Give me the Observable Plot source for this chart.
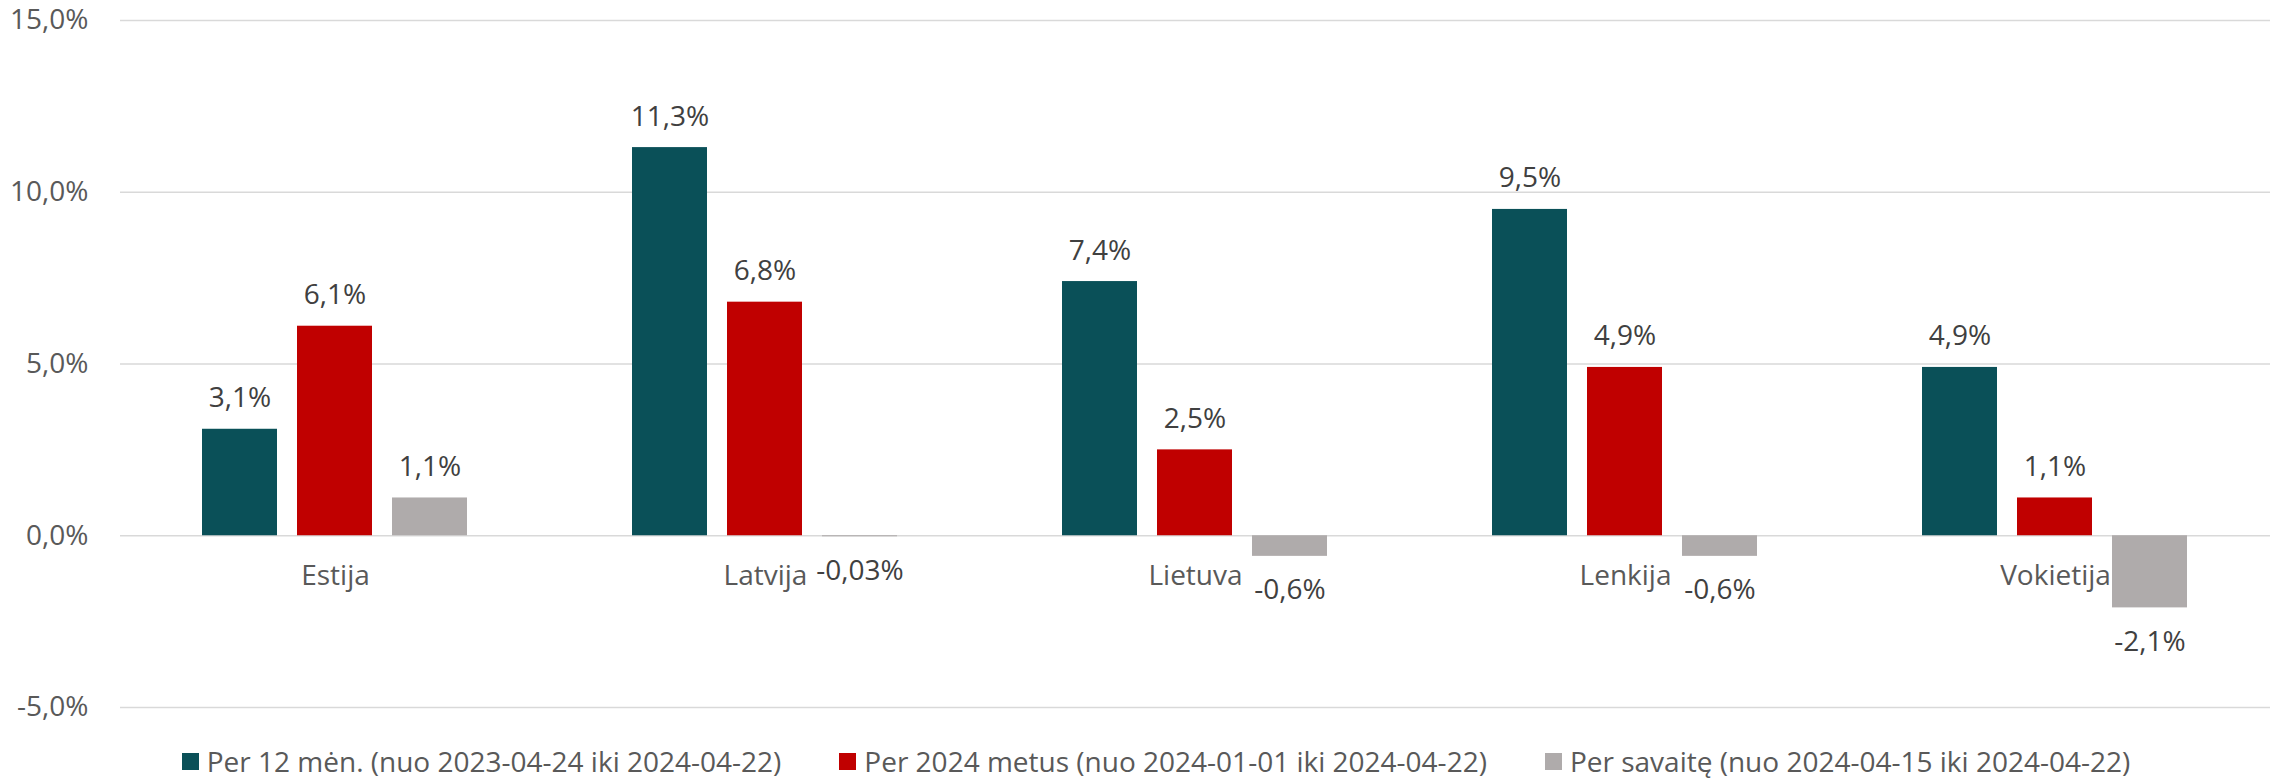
<!DOCTYPE html>
<html>
<head>
<meta charset="utf-8">
<script src="https://cdn.jsdelivr.net/npm/d3@7"></script>
<script src="https://cdn.jsdelivr.net/npm/@observablehq/plot@0.6"></script>
<style>
  html, body { margin: 0; padding: 0; background: #fff; }
  body { width: 2280px; height: 783px; overflow: hidden; font-family: "Open Sans", sans-serif; }
  #legend { display: flex; justify-content: center; align-items: center; gap: 58px; height: 48px; padding-left: 32px; padding-top: 4px; box-sizing: border-box; font-size: 28px; color: #595959; }
  #legend .item { display: flex; align-items: center; gap: 8px; white-space: nowrap; }
  #legend .sw { width: 17px; height: 17px; display: inline-block; }
</style>
</head>
<body>
<div id="chart"></div>
<div id="legend"></div>
<script>
const countries = ["Estija", "Latvija", "Lietuva", "Lenkija", "Vokietija"];
const series = [
  "Per 12 mėn. (nuo 2023-04-24 iki 2024-04-22)",
  "Per 2024 metus (nuo 2024-01-01 iki 2024-04-22)",
  "Per savaitę (nuo 2024-04-15 iki 2024-04-22)"
];
const colors = ["#0A5058", "#C00000", "#AFABAB"];
const val12m = [3.1, 11.3, 7.4, 9.5, 4.9];
const valYtd = [6.1, 6.8, 2.5, 4.9, 1.1];
const valWeek = [1.1, -0.03, -0.6, -0.6, -2.1];
const yTicks = [-5, 0, 5, 10, 15];

const seriesValues = [val12m, valYtd, valWeek];
const data = countries.flatMap((c, i) =>
  series.map((s, j) => ({country: c, series: s, value: seriesValues[j][i]}))
);
const fmtVal = v => (Math.abs(v) < 0.1 && v !== 0 ? v.toFixed(2) : v.toFixed(1)).replace(".", ",") + "%";
const countryRows = countries.map(c => ({country: c, zero: 0}));

const chart = Plot.plot({
  width: 2280,
  height: 735,
  marginTop: 20,
  marginBottom: 28,
  marginLeft: 120,
  marginRight: 10,
  style: {fontFamily: "'Open Sans', sans-serif", fontSize: "28px", color: "#595959", background: "#fff"},
  fx: {domain: countries, padding: 0, axis: null, label: null},
  x: {domain: series, paddingInner: 0.2105, paddingOuter: 0.868, axis: null},
  y: {domain: [-5, 15], ticks: yTicks, tickFormat: d => d.toFixed(1).replace(".", ",") + "%", tickSize: 0, tickPadding: 32, label: null},
  color: {domain: series, range: colors},
  marks: [
    Plot.ruleY(yTicks, {stroke: "#D9D9D9", strokeWidth: 1.5, strokeOpacity: 1}),
    Plot.barY(data, {fx: "country", x: "series", y: "value", fill: "series"}),
    Plot.text(data.filter(d => d.value >= 0), {fx: "country", x: "series", y: "value", text: d => fmtVal(d.value), dy: -31, fill: "#404040"}),
    Plot.text(data.filter(d => d.value < 0), {fx: "country", x: "series", y: "value", text: d => fmtVal(d.value), dy: 34, fill: "#404040"}),
    Plot.text(countryRows, {fx: "country", y: "zero", text: "country", dy: 40, fill: "#595959"})
  ]
});
document.getElementById("chart").appendChild(chart);

const legend = document.getElementById("legend");
series.forEach((s, i) => {
  const item = document.createElement("div");
  item.className = "item";
  const sw = document.createElement("span");
  sw.className = "sw";
  sw.style.background = colors[i];
  const t = document.createElement("span");
  t.textContent = s;
  item.appendChild(sw);
  item.appendChild(t);
  legend.appendChild(item);
});
</script>
</body>
</html>
